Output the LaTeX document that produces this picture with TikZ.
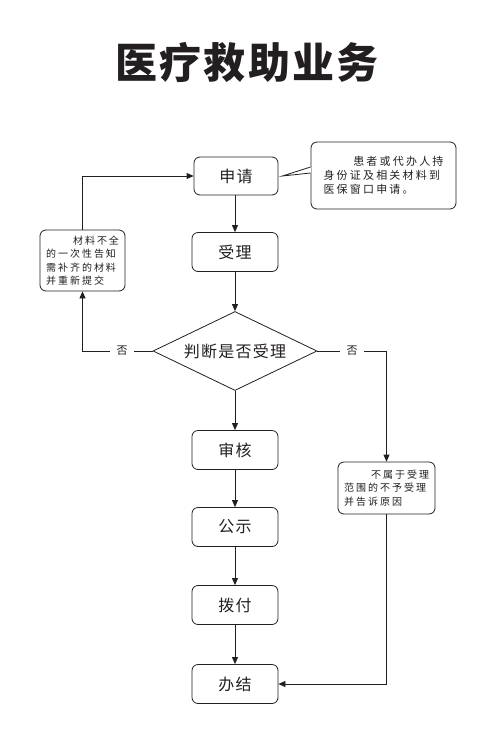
\documentclass[tikz,border=0pt]{standalone}
\usepackage{fontspec}
\setmainfont{Noto Sans CJK SC}
\newfontfamily\cjkbox[LetterSpace=8]{Noto Sans CJK SC}
\newfontfamily\cjksmall[LetterSpace=20]{Noto Sans CJK SC}
\newfontfamily\cjktitle[LetterSpace=5]{Noto Sans CJK SC}
\usetikzlibrary{arrows.meta,shapes.geometric}
\definecolor{ink}{HTML}{231F20}
\begin{document}
\begin{tikzpicture}[x=1pt,y=1pt,line width=0.8pt,draw=ink,text=ink,
  box/.style={draw,rounded corners=6pt,minimum width=86pt,minimum height=39pt,inner sep=0pt,font=\cjkbox\fontsize{16}{16}\selectfont},
  note/.style={draw,rounded corners=6pt,inner sep=0pt,align=left,font=\cjksmall\fontsize{10}{13.5}\selectfont},
  arr/.style={-{Triangle[length=7pt,width=6pt]}},
  lbl/.style={inner sep=6pt,font=\cjkbox\fontsize{11}{11}\selectfont}]
\useasboundingbox (0,0) rectangle (501,-732);
\fill[white] (0,0) rectangle (501,-732);
\node[font=\cjktitle\bfseries\fontsize{42}{42}\selectfont] (title) at (247,-62) {医疗救助业务};
% main column
\node[box,minimum width=84pt,minimum height=38pt] (shen) at (236,-176) {申请};
\node[box] (shou) at (235,-252) {受理};
\node[draw,diamond,aspect=2.08,minimum width=164pt,minimum height=79pt,inner sep=0pt,font=\cjkbox\fontsize{16}{16}\selectfont] (dia) at (235,-351) {判断是否受理};
\node[box] (shenhe) at (235,-450) {审核};
\node[box] (gong) at (235,-527) {公示};
\node[box] (bo) at (235,-605) {拨付};
\node[box] (ban) at (235,-684) {办结};
% side notes
\node[note,minimum width=145pt,minimum height=67pt,text width=120pt,font=\cjksmall\fontsize{11}{14}\selectfont] (call) at (383.5,-175.5)
  {\hspace*{\fill}患者或代办人持\\身份证及相关材料到\\医保窗口申请。};
\node[note,minimum width=85pt,minimum height=61pt,text width=73pt] (left) at (82.5,-260.5)
  {\hspace*{\fill}材料不全\\的一次性告知\\需补齐的材料\\并重新提交};
\node[note,minimum width=97pt,minimum height=52pt,text width=85pt] (right) at (386.5,-488)
  {\hspace*{\fill}不属于受理\\范围的不予受理\\并告诉原因};
% callout pointer
\coordinate (pa) at ([yshift=8.5pt]call.west);
\coordinate (pb) at ([yshift=2.5pt]call.west);
\coordinate (tip) at ([xshift=4pt]shen.east);
\draw[white,line width=1.4pt] (pa) -- (pb);
\draw (pa) -- (tip) -- (pb);
% labels
\node[lbl] (no1) at (122,-351) {否};
\node[lbl] (no2) at (352,-351) {否};
% connectors
\draw[arr] (shen.south -| shou.north) -- (shou.north);
\draw[arr] (shou) -- (dia.north);
\draw[arr] (dia.south) -- (shenhe.north);
\draw[arr] (shenhe) -- (gong);
\draw[arr] (gong) -- (bo);
\draw[arr] (bo) -- (ban);
\draw (dia.west) -- (no1.east);
\draw[arr] (no1.west) -| (left.south);
\draw[arr] (left.north) |- (shen.west);
\draw (dia.east) -- (no2.west);
\draw[arr] (no2.east) -| (right.north);
\draw[arr] (right.south) |- (ban.east);
\end{tikzpicture}
\end{document}
